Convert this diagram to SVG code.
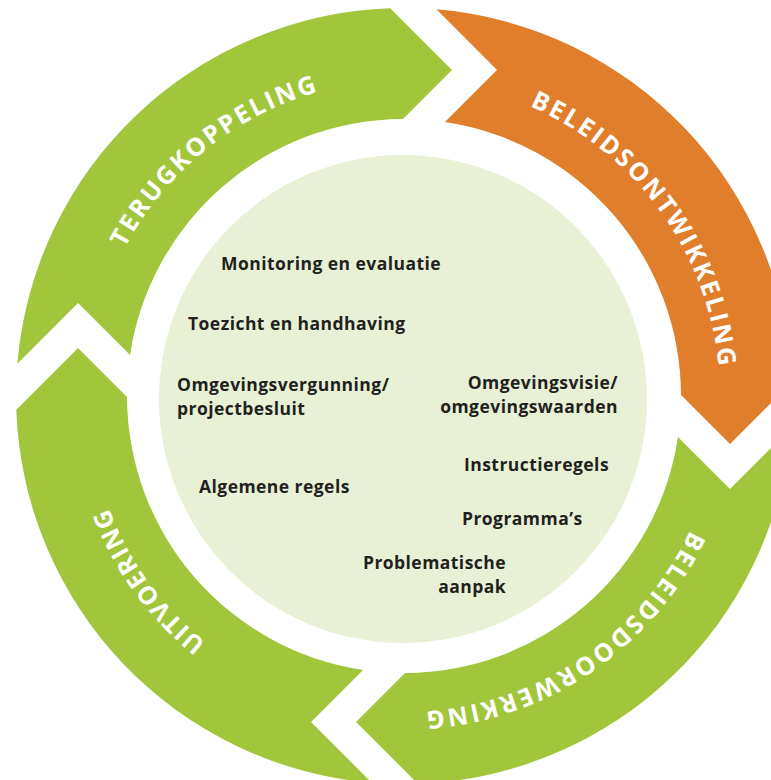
<svg xmlns="http://www.w3.org/2000/svg" xmlns:xlink="http://www.w3.org/1999/xlink" width="771" height="780" viewBox="0 0 771 780">
<style>
.green{fill:#a2c63b}
.orange{fill:#e07e2c}
.arc{font-family:"Open Sans","Liberation Sans",sans-serif;font-weight:700;font-size:25px;fill:#ffffff}
.lbl{font-family:"Open Sans","Liberation Sans",sans-serif;font-weight:700;font-size:17.5px;letter-spacing:0.45px;fill:#231f20}
.end{text-anchor:end}
</style>
<defs>
<path id="seg" d="M -386.65 -32.35 A 388 388 0 0 1 -13.75 -387.75 L 48 -326 L -1 -277 A 277 277 0 0 0 -273.95 -40.95 L -326 -93 Z"/>
<path id="p1" d="M 127.6 549.2 A 316 316 0 0 1 611.3 157.5"/>
<path id="p2" d="M 265.5 112.0 A 316 316 0 0 1 631.3 615.5"/>
<path id="p3" d="M 691.8 265.5 A 316 316 0 0 1 178.2 617.1"/>
<path id="p4" d="M 542.5 680.0 A 316 316 0 0 1 176.7 176.5"/>
</defs>
<rect width="771" height="780" fill="#ffffff"/>
<g id="kern">
<circle cx="403" cy="399" r="244" fill="#e8f1d6"/>
</g>
<g id="connectors"></g>
<g id="terugkoppeling">
<use xlink:href="#seg" class="green" transform="translate(404 396)"/>
<text class="arc"><textPath xlink:href="#p1" startOffset="50%" text-anchor="middle" textLength="255" lengthAdjust="spacing">TERUGKOPPELING</textPath></text>
</g>
<g id="beleidsontwikkeling">
<use xlink:href="#seg" class="orange" transform="translate(404 396) rotate(90)"/>
<text class="arc"><textPath xlink:href="#p2" startOffset="50%" text-anchor="middle" textLength="337" lengthAdjust="spacing">BELEIDSONTWIKKELING</textPath></text>
</g>
<g id="beleidsdoorwerking">
<use xlink:href="#seg" class="green" transform="translate(404 396) rotate(180)"/>
<text class="arc"><textPath xlink:href="#p3" startOffset="50%" text-anchor="middle" textLength="336" lengthAdjust="spacing">BELEIDSDOORWERKING</textPath></text>
</g>
<g id="uitvoering">
<use xlink:href="#seg" class="green" transform="translate(404 396) rotate(270)"/>
<text class="arc"><textPath xlink:href="#p4" startOffset="50%" text-anchor="middle" textLength="168" lengthAdjust="spacing">UITVOERING</textPath></text>
</g>
<g id="items">
<text class="lbl" x="221" y="270">Monitoring en evaluatie</text>
<text class="lbl" x="188" y="330">Toezicht en handhaving</text>
<text class="lbl"><tspan x="177" y="391">Omgevingsvergunning/</tspan><tspan x="177" y="415">projectbesluit</tspan></text>
<text class="lbl end"><tspan x="618" y="389">Omgevingsvisie/</tspan><tspan x="618" y="413">omgevingswaarden</tspan></text>
<text class="lbl" x="464" y="471">Instructieregels</text>
<text class="lbl" x="462" y="525">Programma’s</text>
<text class="lbl end"><tspan x="506" y="569">Problematische</tspan><tspan x="506" y="593">aanpak</tspan></text>
<text class="lbl" x="199" y="493">Algemene regels</text>
</g>
</svg>
